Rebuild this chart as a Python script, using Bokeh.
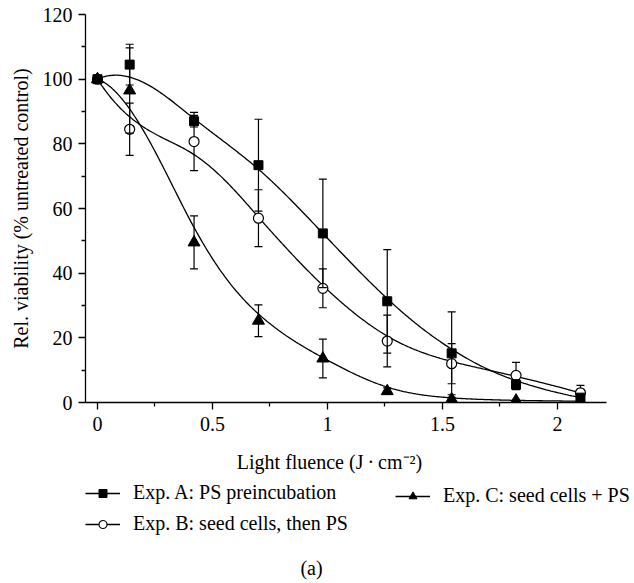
import numpy as np
from bokeh.plotting import figure
from bokeh.layouts import column
from bokeh.models import Range1d, FixedTicker, Legend, LegendItem, Label
from bokeh.embed import file_html
from bokeh.resources import INLINE

# ---------------- data ----------------
fluence = [0.0, 0.14, 0.42, 0.70, 0.98, 1.26, 1.54, 1.82, 2.10]

exp_a = [100.0, 104.5, 87.0, 73.4, 52.3, 31.3, 15.2, 5.5, 1.5]
exp_a_err = [0.0, 6.3, 1.8, 14.2, 16.8, 16.0, 12.8, 1.5, 1.0]

exp_b = [100.0, 84.5, 80.7, 57.0, 35.3, 19.0, 12.0, 8.4, 3.0]
exp_b_err = [0.0, 8.1, 9.0, 8.8, 6.0, 8.0, 6.2, 4.0, 2.3]

exp_c = [100.0, 96.5, 49.5, 25.3, 13.6, 3.5, 1.0, 0.6, 0.4]
exp_c_err = [0.0, 13.2, 8.2, 4.9, 6.0, 1.0, 0.6, 0.4, 0.3]

labels = ["Exp. A: PS preincubation",
          "Exp. B: seed cells, then PS",
          "Exp. C: seed cells + PS"]

x_ticks = [0, 0.5, 1, 1.5, 2]
x_tick_labels = ["0", "0.5", "1", "1.5", "2"]
y_ticks = [0, 20, 40, 60, 80, 100, 120]

x_title = "Light fluence (J\u2009\u00b7\u2009cm\u207b\u00b2)"
y_title = "Rel. viability (% untreated control)"
caption = "(a)"

FONT = "Liberation Serif"
LEGEND_FONT = "'Liberation Serif', serif"
FS = "20px"


def bspline(xs, ys, samples=400):
    """Clamped cubic B-spline using the data points as control points
    (the 'B-spline' line connection of the original plotting software)."""
    P = np.column_stack([xs, ys]).astype(float)
    k = 3
    m = len(P)
    knots = np.concatenate([np.zeros(k), np.linspace(0, 1, m - k + 1), np.ones(k)])
    ts = np.linspace(0, 1, samples)
    out = np.zeros((samples, 2))
    for n, t in enumerate(ts):
        s = m - 1 if t >= 1 else int(np.searchsorted(knots, t, side="right") - 1)
        d = [P[j + s - k].copy() for j in range(k + 1)]
        for r in range(1, k + 1):
            for j in range(k, r - 1, -1):
                lo = knots[j + s - k]
                hi = knots[j + 1 + s - r]
                a = 0.0 if hi == lo else (t - lo) / (hi - lo)
                d[j] = (1 - a) * d[j - 1] + a * d[j]
        out[n] = d[k]
    return out[:, 0], out[:, 1]


# ---------------- main plot ----------------
X_AXIS_END = 2.213
p = figure(width=634, height=440, output_backend="svg", toolbar_location=None,
           x_range=Range1d(-0.052, 2.335), y_range=Range1d(0, 120),
           min_border_left=85, min_border_right=0, min_border_top=14,
           min_border_bottom=38)
p.outline_line_color = None
p.xgrid.visible = False
p.ygrid.visible = False

curves = {}
for key, ys in (("a", exp_a), ("b", exp_b), ("c", exp_c)):
    cx, cy = bspline(fluence, ys)
    curves[key] = p.line(cx, cy, line_color="black", line_width=1.3)

x = np.array(fluence)


def errorbars(ys, err):
    ys = np.array(ys)
    err = np.array(err)
    p.segment(x0=x, y0=ys - err, x1=x, y1=ys + err, line_color="black", line_width=1.2)
    p.scatter(x, ys + err, marker="dash", size=8, line_color="black", line_width=1.2)
    p.scatter(x, ys - err, marker="dash", size=8, line_color="black", line_width=1.2)


errorbars(exp_b, exp_b_err)
p.scatter(fluence, exp_b, marker="circle", size=10, fill_color="white",
          line_color="black", line_width=1.2)
errorbars(exp_c, exp_c_err)
p.scatter(fluence, exp_c, marker="triangle", size=12, fill_color="black",
          line_color="black", line_width=1)
errorbars(exp_a, exp_a_err)
p.scatter(fluence, exp_a, marker="square", size=9, fill_color="black",
          line_color="black", line_width=1)

for ax in (p.xaxis[0], p.yaxis[0]):
    ax.axis_line_width = 1.3
    ax.major_tick_line_width = 1.3
    ax.minor_tick_line_width = 1.3
    ax.major_tick_out = 7
    ax.major_tick_in = 0
    ax.minor_tick_out = 4
    ax.minor_tick_in = 0
    ax.major_label_text_font = FONT
    ax.major_label_text_font_size = FS
    ax.major_label_text_color = "black"
    ax.axis_label_text_font = FONT
    ax.axis_label_text_font_size = FS
    ax.axis_label_text_font_style = "normal"
    ax.axis_label_text_color = "black"

x_minor = [(a + b) / 2 for a, b in zip(x_ticks[:-1], x_ticks[1:])]
y_minor = [(a + b) / 2 for a, b in zip(y_ticks[:-1], y_ticks[1:])]
p.xaxis.ticker = FixedTicker(ticks=x_ticks, minor_ticks=x_minor)
p.yaxis.ticker = FixedTicker(ticks=y_ticks, minor_ticks=y_minor)
p.xaxis.bounds = (-0.052, X_AXIS_END)
p.xaxis.major_label_overrides = {float(t): s for t, s in zip(x_ticks, x_tick_labels)}
p.xaxis.major_label_standoff = 7
p.yaxis.major_label_standoff = 6
p.yaxis.axis_label = y_title
p.yaxis.axis_label_standoff = 8

# ---------------- lower panel: x title, legend, caption ----------------
H2 = 142
q = figure(width=634, height=H2, output_backend="svg", toolbar_location=None,
           x_range=Range1d(0, 549), y_range=Range1d(0, H2),
           x_axis_type=None, y_axis_type=None, min_border_left=85,
           min_border_right=0, min_border_top=0, min_border_bottom=0)
q.outline_line_color = None

nan = [float("nan")]
la = q.line(nan, nan, line_color="black", line_width=1.3)
sa = q.scatter(nan, nan, marker="square", fill_color="black", line_color="black")
lb = q.line(nan, nan, line_color="black", line_width=1.3)
sb = q.scatter(nan, nan, marker="circle", fill_color="white", line_color="black", line_width=1.2)
lc = q.line(nan, nan, line_color="black", line_width=1.3)
sc = q.scatter(nan, nan, marker="triangle", fill_color="black", line_color="black")

common = dict(glyph_width=35, glyph_height=20, label_standoff=13, spacing=8,
              padding=0, margin=0, border_line_color=None,
              background_fill_alpha=0, label_text_font=LEGEND_FONT,
              label_text_font_size=FS, label_text_font_style="normal",
              label_text_color="black", label_height=20)
leg1 = Legend(items=[LegendItem(label=labels[0], renderers=[la, sa]),
                     LegendItem(label=labels[1], renderers=[lb, sb])],
              location=(0, 47), **common)
leg2 = Legend(items=[LegendItem(label=labels[2], renderers=[lc, sc])],
              location=(310, 75), **common)
q.add_layout(leg1)
q.add_layout(leg2)

q.add_layout(Label(x=244, y=H2 - 21, x_units="screen", y_units="screen", text=x_title,
                   text_align="center", text_baseline="middle", text_font=FONT,
                   text_font_size=FS, text_color="black"))
q.add_layout(Label(x=226, y=H2 - 127, x_units="screen", y_units="screen", text=caption,
                   text_align="center", text_baseline="middle", text_font=FONT,
                   text_font_size=FS, text_color="black"))

open("out.html", "w").write(file_html(column(p, q, spacing=0), INLINE))
